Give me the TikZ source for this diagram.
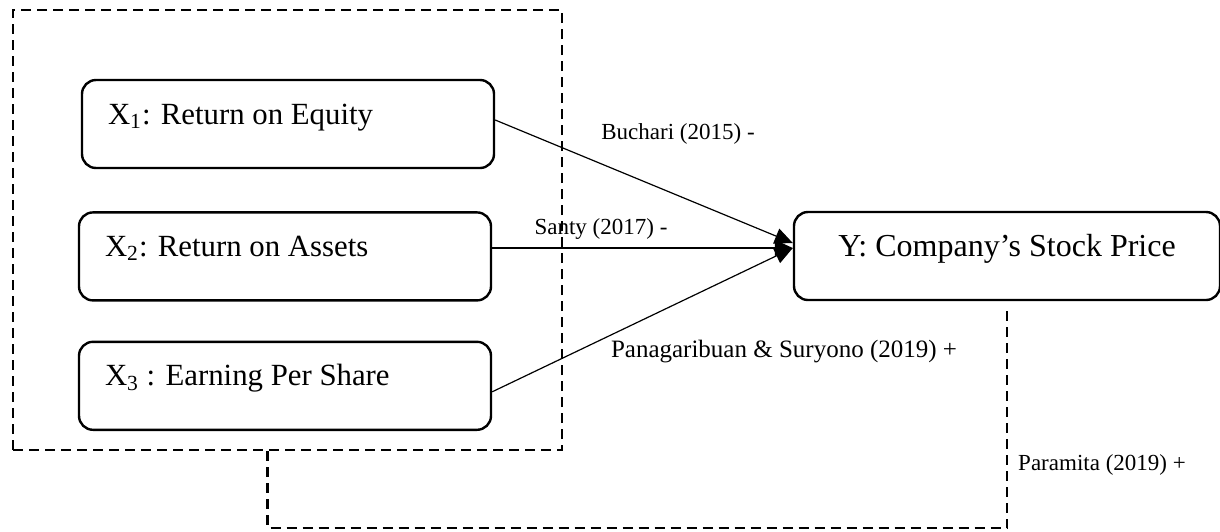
\documentclass[tikz,border=0pt]{standalone}
\usepackage{fontspec}
\setmainfont{Liberation Serif}
\usetikzlibrary{positioning,arrows.meta}

\begin{document}
\begin{tikzpicture}[
  x=0.5pt, y=-0.5pt,
  var/.style={draw, line width=1.2pt, rounded corners=7pt, minimum height=44pt, text height=8pt, text depth=8pt, font=\fontsize{16}{19}\selectfont},
  xvar/.style={var, text width=180pt, inner xsep=13pt, align=flush left, font=\fontsize{15.4}{18}\selectfont},
  yvar/.style={var, minimum width=213pt, align=center},
  grp/.style={draw, dash pattern=on 5pt off 3pt, line width=1.2pt},
  arr/.style={-{Triangle[length=9pt,width=8pt]}, line width=0.6pt},
  lab/.style={font=\fontsize{11.5}{14}\selectfont, inner sep=0pt}
]
\useasboundingbox (0,0) rectangle (1220,531);
\node[xvar] (X1) at (288,124) {X\textsubscript{1}: Return on Equity};
\node[xvar, below=21pt of X1, xshift=-1.5pt] (X2) {X\textsubscript{2}: Return on Assets};
\node[xvar, below=19.5pt of X2] (X3) {X\textsubscript{3} : Earning Per Share};
\node[yvar] (Y) at (1007,256) {Y: Company’s Stock Price};
\node[grp, minimum width=274.5pt, minimum height=220pt, inner sep=0pt] (grp) at (287.5,230) {};
\coordinate (yin1) at ([yshift=6.5pt]Y.west);
\coordinate (yin2) at ([yshift=4pt]Y.west);
\draw[arr] ([yshift=2pt]X1.east) -- (yin1);
\draw[arr] (X2.east |- yin2) -- (yin2);
\draw[arr] ([yshift=-3pt]X3.east) -- (yin2);
\draw[grp, shorten >=5pt] ([xshift=-10pt]grp.south) -- ++(0,77) -| (Y.south);
\node[lab] (buchari) at (678,134) {Buchari (2015) -};
\node[lab] (santy) at (601,229) {Santy (2017) -};
\node[lab, font=\fontsize{12.5}{15}\selectfont] (panag) at (784,352) {Panagaribuan \& Suryono (2019) +};
\node[lab] (paramita) at (1102,465) {Paramita (2019) +};
\end{tikzpicture}
\end{document}
